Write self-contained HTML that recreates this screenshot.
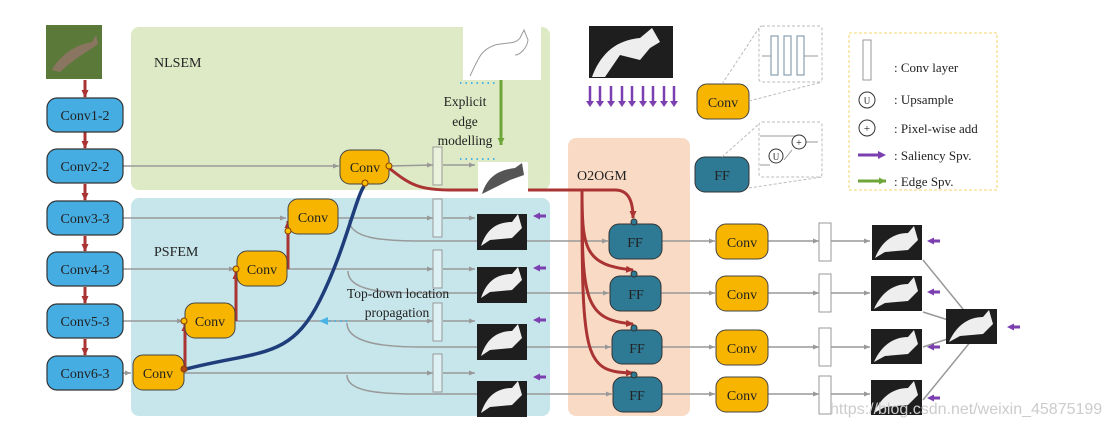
<!DOCTYPE html>
<html><head><meta charset="utf-8"><style>
body{margin:0;background:#fff}
svg{display:block}
text{font-family:"Liberation Serif",serif;fill:#222}
</style></head><body>
<svg width="1109" height="426" viewBox="0 0 1109 426" xmlns="http://www.w3.org/2000/svg">
<defs>
<marker id="ag" markerUnits="userSpaceOnUse" markerWidth="7" markerHeight="7" refX="6" refY="3.5" orient="auto"><path d="M0,1 L6,3.5 L0,6z" fill="#999"/></marker>
<marker id="ar" markerUnits="userSpaceOnUse" markerWidth="9" markerHeight="9" refX="7" refY="4.5" orient="auto"><path d="M0,1 L8,4.5 L0,8z" fill="#a33"/></marker>
<marker id="ap" markerUnits="userSpaceOnUse" markerWidth="8" markerHeight="8" refX="1" refY="4" orient="auto"><path d="M0,0.5 L7,4 L0,7.5z" fill="#7b3fb0"/></marker>
<marker id="agr" markerUnits="userSpaceOnUse" markerWidth="8" markerHeight="8" refX="7" refY="4" orient="auto"><path d="M0,0.5 L7,4 L0,7.5z" fill="#6fa63a"/></marker>
</defs>
<rect x="131" y="27" width="419" height="163" rx="8" fill="#deeac5"/>
<rect x="131" y="198" width="419" height="218" rx="8" fill="#c6e6eb"/>
<rect x="568" y="138" width="122" height="278" rx="8" fill="#f9dac4"/>
<text x="154" y="67" font-size="14">NLSEM</text>
<text x="154" y="256" font-size="14">PSFEM</text>
<text x="577" y="180" font-size="14">O2OGM</text>
<rect x="46" y="25" width="56" height="54" fill="#5b7a3a"/>
<path d="M52,70 C60,55 75,45 92,42 L96,35 L98,44 C90,50 75,58 60,72z" fill="#8a7560"/>
<g stroke="#a33" stroke-width="3" marker-end="url(#ar)">
<line x1="85" y1="80" x2="85" y2="97"/><line x1="85" y1="132" x2="85" y2="148"/><line x1="85" y1="184" x2="85" y2="200"/><line x1="85" y1="236" x2="85" y2="251"/><line x1="85" y1="287" x2="85" y2="303"/><line x1="85" y1="339" x2="85" y2="355"/>
</g>
<g stroke="#999" stroke-width="1.5" fill="none" marker-end="url(#ag)">
<line x1="123" y1="166" x2="339" y2="166"/>
<line x1="389" y1="166" x2="433" y2="165"/>
<line x1="443" y1="165" x2="475" y2="165"/>
<line x1="123" y1="218" x2="286" y2="218"/>
<line x1="338" y1="218" x2="433" y2="218"/>
<line x1="443" y1="218" x2="475" y2="218"/>
<line x1="123" y1="269" x2="235" y2="269"/>
<line x1="287" y1="269" x2="433" y2="269"/>
<line x1="443" y1="269" x2="475" y2="269"/>
<line x1="123" y1="321" x2="183" y2="321"/>
<line x1="235" y1="321" x2="433" y2="321"/>
<line x1="443" y1="321" x2="475" y2="321"/>
<line x1="123" y1="373" x2="131" y2="373"/>
<line x1="183" y1="373" x2="433" y2="373"/>
<line x1="443" y1="373" x2="475" y2="373"/>
<path d="M349,220 C350,238 380,241 420,241 L608,241"/>
<path d="M348,271 C348,290 380,293 420,293 L609,293"/>
<path d="M347,323 C347,342 380,347 420,347 L611,347"/>
<path d="M347,375 C347,392 380,394 420,394 L612,394"/>
<line x1="662" y1="241" x2="715" y2="241"/><line x1="661" y1="293" x2="715" y2="293"/><line x1="661" y1="347" x2="715" y2="347"/><line x1="661" y1="394" x2="715" y2="394"/>
<line x1="768" y1="241" x2="819" y2="241"/><line x1="768" y1="293" x2="819" y2="293"/><line x1="768" y1="347" x2="819" y2="347"/><line x1="768" y1="394" x2="819" y2="394"/>
<line x1="831" y1="241" x2="870" y2="241"/><line x1="831" y1="293" x2="870" y2="293"/><line x1="831" y1="347" x2="870" y2="347"/><line x1="831" y1="394" x2="870" y2="394"/>
<line x1="923" y1="260" x2="980" y2="330"/><line x1="923" y1="312" x2="980" y2="330"/><line x1="923" y1="347" x2="975" y2="330"/><line x1="923" y1="400" x2="980" y2="330"/>
</g>
<g stroke="#a33" stroke-width="3" fill="none" marker-end="url(#ar)">
<line x1="185" y1="371" x2="185" y2="324"/>
<line x1="236" y1="321" x2="236" y2="272"/>
<line x1="288" y1="269" x2="288" y2="221"/>
</g>
<path d="M186,369 C260,350 290,360 320,300 C345,250 355,200 364,186" stroke="#1f3d7a" stroke-width="3.5" fill="none"/>
<g stroke="#a33" stroke-width="3" fill="none" marker-end="url(#ar)">
<path d="M389,168 C410,185 420,190 450,190 L615,190 C628,190 633,200 633,218"/>
<path d="M582,190 C582,250 585,265 633,270"/>
<path d="M582,200 C582,300 585,320 633,324"/>
<path d="M582,200 C582,360 585,372 633,373"/>
</g>
<line x1="501" y1="80" x2="501" y2="145" stroke="#6fa63a" stroke-width="3" marker-end="url(#agr)"/>
<line x1="460" y1="83" x2="497" y2="83" stroke="#4ab3e6" stroke-width="2" stroke-dasharray="1.5,4"/>
<line x1="460" y1="159" x2="497" y2="159" stroke="#4ab3e6" stroke-width="2" stroke-dasharray="1.5,4"/>
<line x1="347" y1="321" x2="328" y2="321" stroke="#4ab3e6" stroke-width="2" stroke-dasharray="1.5,4"/>
<path d="M319,321 L328,317 L328,325z" fill="#4ab3e6"/>
<text x="465" y="106" font-size="13.5" text-anchor="middle">Explicit</text>
<text x="465" y="126" font-size="13.5" text-anchor="middle">edge</text>
<text x="465" y="145" font-size="13.5" text-anchor="middle">modelling</text>
<text x="398" y="298" font-size="13.5" text-anchor="middle">Top-down location</text>
<text x="397" y="317" font-size="13.5" text-anchor="middle">propagation</text>
<g fill="#46ade3" stroke="#333" stroke-width="1.2">
<rect x="47" y="98" width="76" height="34" rx="10"/><rect x="47" y="149" width="76" height="34" rx="10"/><rect x="47" y="201" width="76" height="34" rx="10"/><rect x="47" y="252" width="76" height="34" rx="10"/><rect x="47" y="304" width="76" height="34" rx="10"/><rect x="47" y="356" width="76" height="34" rx="10"/>
</g>
<g font-size="14" text-anchor="middle">
<text x="85" y="120">Conv1-2</text><text x="85" y="171">Conv2-2</text><text x="85" y="223">Conv3-3</text><text x="85" y="274">Conv4-3</text><text x="85" y="326">Conv5-3</text><text x="85" y="378">Conv6-3</text>
</g>
<g fill="#f7b500" stroke="#444" stroke-width="1">
<rect x="340" y="150" width="49" height="34" rx="10"/><rect x="288" y="199" width="50" height="35" rx="10"/><rect x="237" y="251" width="50" height="35" rx="10"/><rect x="185" y="303" width="50" height="35" rx="10"/><rect x="133" y="355" width="51" height="35" rx="10"/>
<rect x="697" y="84" width="52" height="35" rx="10"/>
<rect x="716" y="224" width="52" height="35" rx="10"/><rect x="716" y="276" width="52" height="35" rx="10"/><rect x="716" y="330" width="52" height="35" rx="10"/><rect x="716" y="377" width="52" height="35" rx="10"/>
</g>
<g font-size="14" text-anchor="middle">
<text x="365" y="172">Conv</text><text x="313" y="222">Conv</text><text x="262" y="274">Conv</text><text x="210" y="326">Conv</text><text x="158" y="378">Conv</text>
<text x="723" y="107">Conv</text>
<text x="742" y="247">Conv</text><text x="742" y="299">Conv</text><text x="742" y="353">Conv</text><text x="742" y="400">Conv</text>
</g>
<g fill="#f7c100" stroke="#8a3a00" stroke-width="1"><circle cx="389" cy="166" r="3"/><circle cx="365" cy="183" r="3"/><circle cx="288" cy="231" r="3"/><circle cx="236" cy="269" r="3"/><circle cx="184" cy="321" r="3"/><circle cx="184" cy="369" r="3" fill="#b04a1a"/></g>
<g fill="#2e7a95" stroke="#333" stroke-width="1">
<rect x="695" y="157" width="54" height="35" rx="10"/>
<rect x="609" y="224" width="53" height="35" rx="10"/><rect x="610" y="276" width="51" height="35" rx="10"/><rect x="612" y="330" width="50" height="34" rx="10"/><rect x="613" y="377" width="49" height="35" rx="10"/>
</g>
<g fill="#2e7a95" stroke="#333" stroke-width="1"><circle cx="634" cy="222" r="3"/><circle cx="634" cy="274" r="3"/><circle cx="634" cy="328" r="3"/><circle cx="634" cy="375" r="3"/></g>
<g font-size="14" text-anchor="middle">
<text x="722" y="180">FF</text><text x="635" y="247">FF</text><text x="636" y="299">FF</text><text x="637" y="353">FF</text><text x="637" y="400">FF</text>
</g>
<g fill="#fff" fill-opacity="0.4" stroke="#999" stroke-width="1">
<rect x="433" y="147" width="9" height="38"/><rect x="433" y="199" width="9" height="38"/><rect x="433" y="250" width="9" height="38"/><rect x="433" y="303" width="9" height="38"/><rect x="433" y="354" width="9" height="38"/>
<rect x="819" y="223" width="12" height="38" fill="#fff" fill-opacity="1"/><rect x="819" y="274" width="12" height="38" fill="#fff" fill-opacity="1"/><rect x="819" y="328" width="12" height="38" fill="#fff" fill-opacity="1"/><rect x="819" y="376" width="12" height="38" fill="#fff" fill-opacity="1"/>
</g>
<rect x="463" y="25" width="78" height="55" fill="#fff"/>
<path d="M470,76 C478,60 480,50 495,45 C505,42 515,45 520,38 L524,30 L528,40 C527,48 520,55 515,55" stroke="#999" fill="none"/>
<rect x="478" y="162" width="50" height="36" fill="#fff"/>
<path d="M482,194 C488,175 500,170 515,168 L522,163 L524,175 L510,180 Z" fill="#555"/>
<g fill="#1e1e1e">
<rect x="477" y="214" width="50" height="36"/><rect x="477" y="267" width="50" height="36"/><rect x="477" y="324" width="50" height="36"/><rect x="477" y="381" width="50" height="36"/>
<rect x="589" y="26" width="84" height="52"/>
<rect x="872" y="225" width="50" height="35"/><rect x="871" y="276" width="51" height="35"/><rect x="871" y="329" width="51" height="35"/><rect x="871" y="380" width="51" height="35"/>
<rect x="946" y="309" width="51" height="35"/>
</g>
<g fill="#eee">
<path d="M481,246 C487,228 498,222 512,222 L518,214 L522,228 L512,238 L490,240 Z"/>
<path d="M481,298 C487,280 498,274 512,274 L518,267 L522,280 L512,290 L490,292 Z"/>
<path d="M481,356 C487,338 498,331 512,331 L518,324 L522,338 L512,348 L490,350 Z"/>
<path d="M481,413 C487,395 498,388 512,388 L518,381 L522,395 L512,405 L490,407 Z"/>
<path d="M592,77 C600,55 615,40 640,38 L652,28 L660,42 L650,48 L640,60 L620,55 L605,77 Z"/>
<path d="M875,258 C882,240 895,233 908,233 L914,226 L918,240 L908,250 L885,252 Z"/>
<path d="M874,309 C882,291 895,284 908,284 L914,277 L918,291 L908,301 L885,303 Z"/>
<path d="M874,362 C882,344 895,337 908,337 L914,330 L918,344 L908,354 L885,356 Z"/>
<path d="M874,413 C882,395 895,388 908,388 L914,381 L918,395 L908,405 L885,407 Z"/>
<path d="M949,342 C957,324 970,317 983,317 L989,310 L993,324 L983,334 L960,336 Z"/>
</g>
<g stroke="#7b3fb0" stroke-width="3" marker-end="url(#ap)">
<line x1="546" y1="216" x2="539" y2="216"/><line x1="546" y1="268" x2="539" y2="268"/><line x1="546" y1="320" x2="539" y2="320"/><line x1="546" y1="377" x2="539" y2="377"/>
<line x1="940" y1="241" x2="933" y2="241"/><line x1="940" y1="292" x2="933" y2="292"/><line x1="940" y1="347" x2="933" y2="347"/><line x1="940" y1="398" x2="933" y2="398"/>
<line x1="1020" y1="327" x2="1013" y2="327"/>
</g>
<g stroke="#7b3fb0" stroke-width="2.5">
<line x1="590" y1="86" x2="590" y2="103"/><line x1="600" y1="86" x2="600" y2="103"/><line x1="611" y1="86" x2="611" y2="103"/><line x1="622" y1="86" x2="622" y2="103"/><line x1="632" y1="86" x2="632" y2="103"/><line x1="643" y1="86" x2="643" y2="103"/><line x1="653" y1="86" x2="653" y2="103"/><line x1="664" y1="86" x2="664" y2="103"/><line x1="674" y1="86" x2="674" y2="103"/>
</g>
<g fill="#7b3fb0"><path d="M586,101 h8 l-4,6z M596,101 h8 l-4,6z M607,101 h8 l-4,6z M618,101 h8 l-4,6z M628,101 h8 l-4,6z M639,101 h8 l-4,6z M649,101 h8 l-4,6z M660,101 h8 l-4,6z M670,101 h8 l-4,6z"/></g>
<g stroke="#bbb" stroke-dasharray="3,2" fill="none">
<rect x="759" y="26" width="63" height="56" rx="3"/><rect x="759" y="122" width="63" height="55" rx="3"/>
<line x1="722" y1="84" x2="759" y2="28"/><line x1="749" y1="101" x2="822" y2="82"/>
<line x1="722" y1="157" x2="759" y2="124"/><line x1="749" y1="188" x2="822" y2="177"/>
</g>
<g stroke="#8aa0b0" fill="#fff" stroke-width="1.2"><rect x="771" y="36" width="7" height="39"/><rect x="784" y="36" width="7" height="39"/><rect x="797" y="36" width="7" height="39"/></g>
<g stroke="#999" fill="none"><line x1="762" y1="56" x2="771" y2="56"/><line x1="804" y1="56" x2="818" y2="56"/>
<path d="M760,136 H800 V145"/><path d="M760,165 H770"/><path d="M784,160 L792,150"/><line x1="806" y1="142" x2="818" y2="142"/></g>
<g stroke="#333" fill="#fff"><circle cx="776" cy="156" r="7"/><circle cx="799" cy="142" r="7"/></g>
<text x="776" y="160" font-size="9" text-anchor="middle">U</text><text x="799" y="146" font-size="10" text-anchor="middle">+</text>
<rect x="849" y="33" width="148" height="157" fill="none" stroke="#f5d56a" stroke-dasharray="3,2"/>
<rect x="863" y="40" width="8" height="40" fill="#fff" stroke="#999"/>
<g font-size="13"><text x="894" y="72">: Conv layer</text><text x="894" y="104">: Upsample</text><text x="894" y="133">: Pixel-wise add</text><text x="894" y="160">: Saliency Spv.</text><text x="894" y="186">: Edge Spv.</text></g>
<g stroke="#333" fill="#fff"><circle cx="867" cy="100" r="8"/><circle cx="867" cy="128" r="8"/></g>
<text x="867" y="104" font-size="9" text-anchor="middle">U</text><text x="867" y="132" font-size="11" text-anchor="middle">+</text>
<line x1="858" y1="155" x2="880" y2="155" stroke="#7b3fb0" stroke-width="3" marker-end="url(#agr)" style="marker-end:none"/>
<path d="M878,151 L886,155 L878,159z" fill="#7b3fb0"/>
<line x1="858" y1="181" x2="886" y2="181" stroke="#6fa63a" stroke-width="3" marker-end="url(#agr)"/>
<text x="830" y="414" font-size="16" style="font-family:'Liberation Sans',sans-serif;fill:#ccc">https://blog.csdn.net/weixin_45875199</text>
</svg>
</body></html>
